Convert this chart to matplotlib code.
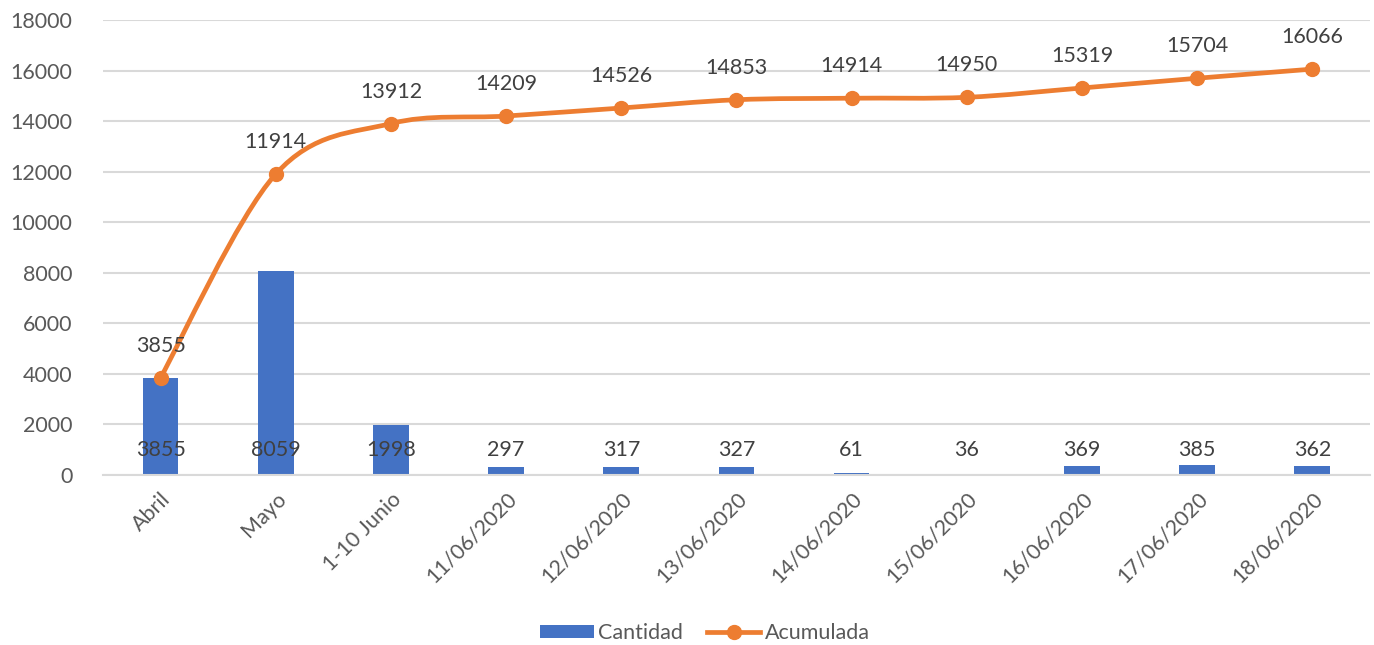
import matplotlib
matplotlib.use("Agg")
from matplotlib import pyplot as plt
from matplotlib.path import Path
from matplotlib.patches import PathPatch, Patch
from matplotlib.lines import Line2D
import numpy as np

plt.rcParams['font.family'] = ['Lato', 'DejaVu Sans']

# Casos por periodo y acumulado
categorias = ['Abril', 'Mayo', '1-10 Junio', '11/06/2020', '12/06/2020',
              '13/06/2020', '14/06/2020', '15/06/2020', '16/06/2020',
              '17/06/2020', '18/06/2020']
cantidad = [3855, 8059, 1998, 297, 317, 327, 61, 36, 369, 385, 362]
acumulada = [3855, 11914, 13912, 14209, 14526, 14853, 14914, 14950,
             15319, 15704, 16066]

AZUL = '#4472C4'
NARANJA = '#ED7D31'
GRIS_TXT = '#595959'
GRIS_LBL = '#404040'
GRIS_REJ = '#D9D9D9'


def bezier_suave(xs, ys):
    """Curva suavizada tipo Excel: Bezier cubica por tramos."""
    pts = np.column_stack([xs, ys]).astype(float)
    n = len(pts)
    verts = [pts[0]]
    codes = [Path.MOVETO]
    for i in range(n - 1):
        p0 = pts[i - 1] if i > 0 else pts[i]
        p1 = pts[i]
        p2 = pts[i + 1]
        p3 = pts[i + 2] if i + 2 < n else pts[i + 1]
        c1 = p1 + (p2 - p0) / 6.0
        c2 = p2 - (p3 - p1) / 6.0
        verts += [c1, c2, p2]
        codes += [Path.CURVE4] * 3
    return Path(verts, codes)


fig = plt.figure(figsize=(13.74, 6.45), dpi=100)
ax = fig.add_axes([0.075, 0.2636, 0.922, 0.705])

x = np.arange(len(categorias))
ax.bar(x, cantidad, width=0.31, color=AZUL, zorder=2)

curva = PathPatch(bezier_suave(x, acumulada), fill=False, edgecolor=NARANJA,
                  lw=3.4, capstyle='round', joinstyle='round', zorder=3)
ax.add_patch(curva)
ax.plot(x, acumulada, linestyle='none', marker='o', markersize=10,
        color=NARANJA, zorder=4)

# etiquetas de datos
for xi, v in zip(x, cantidad):
    ax.annotate(str(v), (xi, 0), xytext=(0, 18), textcoords='offset points',
                ha='center', va='center', fontsize=15.5, color=GRIS_LBL,
                zorder=5)
for xi, v in zip(x, acumulada):
    ax.annotate(str(v), (xi, v), xytext=(0, 23), textcoords='offset points',
                ha='center', va='center', fontsize=15.5, color=GRIS_LBL,
                zorder=5)

ax.set_xlim(-0.5, len(categorias) - 0.5)
ax.set_ylim(0, 18000)
ax.set_yticks(np.arange(0, 18001, 2000))
ax.set_xticks(x)
ax.set_xticklabels(categorias, rotation=45, ha='right', rotation_mode='anchor')
ax.tick_params(axis='both', length=0, labelsize=15.5, labelcolor=GRIS_TXT)
ax.tick_params(axis='y', pad=22)
ax.tick_params(axis='x', pad=10)
ax.grid(axis='y', color=GRIS_REJ, lw=1.5, zorder=0)
ax.set_axisbelow(True)
for lado in ['top', 'right', 'left']:
    ax.spines[lado].set_visible(False)
ax.spines['bottom'].set_color(GRIS_REJ)
ax.spines['bottom'].set_linewidth(1.5)

handles = [Patch(facecolor=AZUL, label='Cantidad'),
           Line2D([], [], color=NARANJA, lw=3.4, marker='o', markersize=10,
                  label='Acumulada')]
leg = fig.legend(handles=handles, loc='center', bbox_to_anchor=(0.513, 0.018),
                 ncol=2, frameon=False, fontsize=15.5, handlelength=2.5,
                 handleheight=0.55, columnspacing=1.1, handletextpad=0.2)
for t in leg.get_texts():
    t.set_color(GRIS_TXT)

fig.savefig('out.png', dpi=100)
